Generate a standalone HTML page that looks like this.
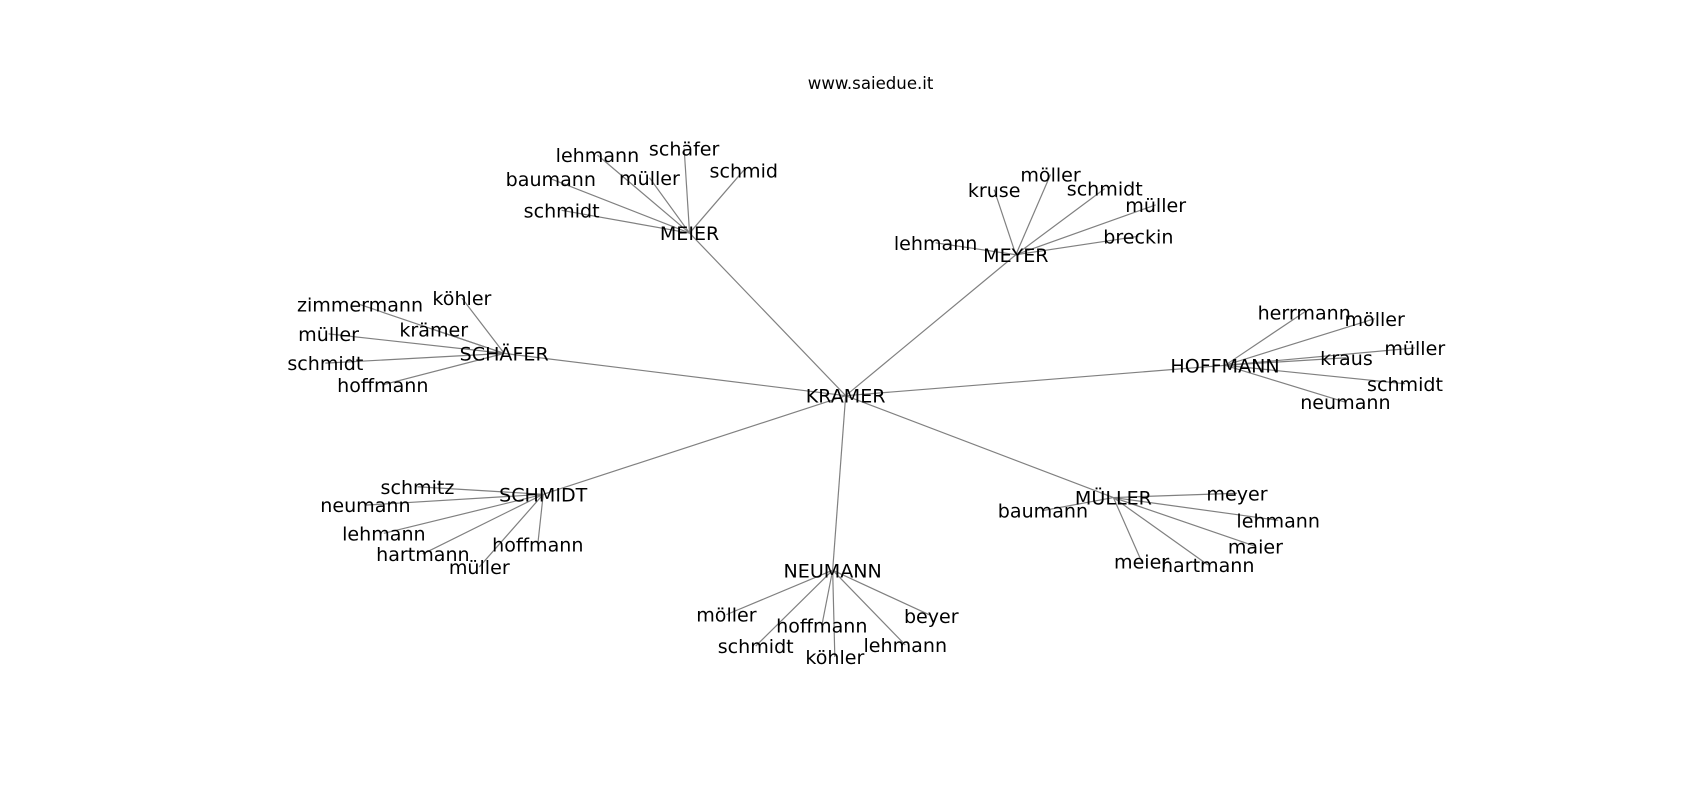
<!DOCTYPE html>
<html><head><meta charset="utf-8"><style>
html,body{margin:0;padding:0;background:#fff;}
svg{display:block;}
text{font-family:"DejaVu Sans","Liberation Sans",sans-serif;fill:#000;}
</style></head><body>
<svg width="1700" height="800" viewBox="0 0 1568 738" xmlns="http://www.w3.org/2000/svg">
<g stroke="#808080" stroke-width="1.1" fill="none">
<line x1="780" y1="365" x2="636" y2="215"/><line x1="780" y1="365" x2="937" y2="235"/>
<line x1="780" y1="365" x2="465" y2="326"/><line x1="780" y1="365" x2="1130" y2="337"/>
<line x1="780" y1="365" x2="501" y2="456"/><line x1="780" y1="365" x2="1027" y2="459"/>
<line x1="780" y1="365" x2="768" y2="526"/>
<line x1="636" y1="215" x2="518" y2="194"/><line x1="636" y1="215" x2="508" y2="165"/><line x1="636" y1="215" x2="551" y2="143"/><line x1="636" y1="215" x2="599" y2="164"/><line x1="636" y1="215" x2="631" y2="137"/><line x1="636" y1="215" x2="686" y2="157"/>
<line x1="937" y1="235" x2="863" y2="224"/><line x1="937" y1="235" x2="917" y2="175"/><line x1="937" y1="235" x2="969" y2="161"/><line x1="937" y1="235" x2="1019" y2="174"/><line x1="937" y1="235" x2="1066" y2="189"/><line x1="937" y1="235" x2="1050" y2="218"/>
<line x1="465" y1="326" x2="332" y2="281"/><line x1="465" y1="326" x2="426" y2="275"/><line x1="465" y1="326" x2="400" y2="304"/><line x1="465" y1="326" x2="303" y2="308"/><line x1="465" y1="326" x2="300" y2="335"/><line x1="465" y1="326" x2="353" y2="355"/>
<line x1="1130" y1="337" x2="1203" y2="288"/><line x1="1130" y1="337" x2="1268" y2="294"/><line x1="1130" y1="337" x2="1242" y2="330"/><line x1="1130" y1="337" x2="1305" y2="321"/><line x1="1130" y1="337" x2="1296" y2="354"/><line x1="1130" y1="337" x2="1241" y2="371"/>
<line x1="501" y1="456" x2="385" y2="449"/><line x1="501" y1="456" x2="337" y2="466"/><line x1="501" y1="456" x2="354" y2="492"/><line x1="501" y1="456" x2="390" y2="511"/><line x1="501" y1="456" x2="442" y2="523"/><line x1="501" y1="456" x2="496" y2="502"/>
<line x1="1027" y1="459" x2="962" y2="471"/><line x1="1027" y1="459" x2="1141" y2="455"/><line x1="1027" y1="459" x2="1179" y2="480"/><line x1="1027" y1="459" x2="1158" y2="504"/><line x1="1027" y1="459" x2="1053" y2="518"/><line x1="1027" y1="459" x2="1114" y2="521"/>
<line x1="768" y1="526" x2="670" y2="567"/><line x1="768" y1="526" x2="697" y2="596"/><line x1="768" y1="526" x2="758" y2="577"/><line x1="768" y1="526" x2="770" y2="606"/><line x1="768" y1="526" x2="835" y2="595"/><line x1="768" y1="526" x2="859" y2="568"/>
</g>
<text x="803" y="77" font-size="15.3" text-anchor="middle" dominant-baseline="central">www.saiedue.it</text>
<g font-size="17.6" text-anchor="middle" dominant-baseline="central" transform="translate(0,1)">
<text x="780" y="365">KRAMER</text>
<text x="636" y="215">MEIER</text><text x="518" y="194">schmidt</text><text x="508" y="165">baumann</text><text x="551" y="143">lehmann</text><text x="599" y="164">müller</text><text x="631" y="137">schäfer</text><text x="686" y="157">schmid</text>
<text x="937" y="235">MEYER</text><text x="863" y="224">lehmann</text><text x="917" y="175">kruse</text><text x="969" y="161">möller</text><text x="1019" y="174">schmidt</text><text x="1066" y="189">müller</text><text x="1050" y="218">breckin</text>
<text x="465" y="326">SCHÄFER</text><text x="332" y="281">zimmermann</text><text x="426" y="275">köhler</text><text x="400" y="304">krämer</text><text x="303" y="308">müller</text><text x="300" y="335">schmidt</text><text x="353" y="355">hoffmann</text>
<text x="1130" y="337">HOFFMANN</text><text x="1203" y="288">herrmann</text><text x="1268" y="294">möller</text><text x="1242" y="330">kraus</text><text x="1305" y="321">müller</text><text x="1296" y="354">schmidt</text><text x="1241" y="371">neumann</text>
<text x="501" y="456">SCHMIDT</text><text x="385" y="449">schmitz</text><text x="337" y="466">neumann</text><text x="354" y="492">lehmann</text><text x="390" y="511">hartmann</text><text x="442" y="523">müller</text><text x="496" y="502">hoffmann</text>
<text x="1027" y="459">MÜLLER</text><text x="962" y="471">baumann</text><text x="1141" y="455">meyer</text><text x="1179" y="480">lehmann</text><text x="1158" y="504">maier</text><text x="1053" y="518">meier</text><text x="1114" y="521">hartmann</text>
<text x="768" y="526">NEUMANN</text><text x="670" y="567">möller</text><text x="697" y="596">schmidt</text><text x="758" y="577">hoffmann</text><text x="770" y="606">köhler</text><text x="835" y="595">lehmann</text><text x="859" y="568">beyer</text>
</g>
</svg>
</body></html>
